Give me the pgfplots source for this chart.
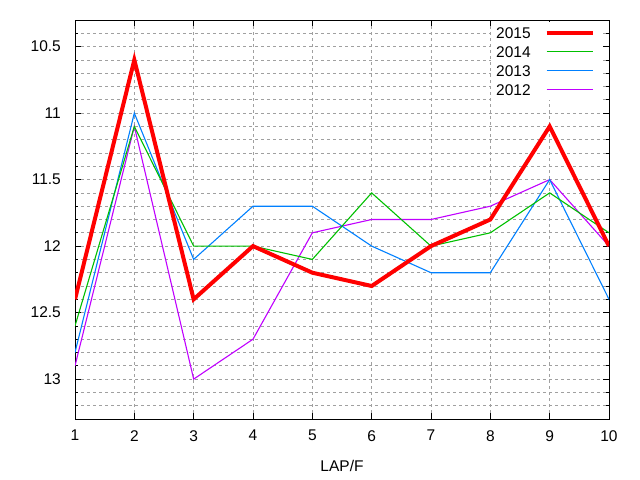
\documentclass[border=0pt]{standalone}
\usepackage{pgfplots}
\pgfplotsset{compat=1.18}
\usepackage{fontspec}
\setmainfont{Liberation Sans}

\definecolor{gpred}{RGB}{255,0,0}
\definecolor{gpgreen}{RGB}{0,192,0}
\definecolor{gpblue}{RGB}{0,128,255}
\definecolor{gpviolet}{RGB}{192,0,255}
\definecolor{gpgrid}{RGB}{160,160,160}

\begin{document}
\begin{tikzpicture}[font=\fontsize{15.5bp}{18bp}\selectfont]
\path[use as bounding box] (0,0) rectangle (640bp,480bp);
\begin{axis}[
    at={(75bp,61bp)}, anchor=south west,
    scale only axis, width=534bp, height=399bp,
    xmin=1, xmax=10,
    ymin=10.3, ymax=13.3,
    y dir=reverse,
    xtick={1,2,3,4,5,6,7,8,9,10},
    ytick={10.5,11,11.5,12,12.5,13},
    yticklabels={10.5,11,11.5,12,12.5,13},
    minor ytick={10.4,10.6,10.7,10.8,10.9,11.1,11.2,11.3,11.4,11.6,11.7,11.8,11.9,
                 12.1,12.2,12.3,12.4,12.6,12.7,12.8,12.9,13.1,13.2},
    /pgf/number format/assume math mode=true,
    grid=both,
    major grid style={gpgrid, line width=0.8bp, dash pattern=on 3bp off 3bp},
    minor grid style={gpgrid, line width=0.8bp, dash pattern=on 3bp off 3bp},
    tick align=inside,
    major tick length=6bp,
    minor tick length=3bp,
    tick style={black, line width=0.8bp},
    axis line style={black, line width=1bp},
    yticklabel style={anchor=east, inner sep=0pt, xshift=-14bp},
    xticklabel style={anchor=north, inner sep=0pt, yshift=-11bp},
    xlabel={LAP/F},
    xlabel style={at={(axis description cs:0.5,0)}, anchor=center, yshift=-47bp},
    legend style={at={(axis description cs:0.983,0.995)}, anchor=north east,
        draw=none, fill=white, inner sep=5bp,
        nodes={inner sep=0pt, text height=11bp, text depth=0bp},
        row sep=8bp, column sep=14bp},
    legend cell align=left,
    legend plot pos=right,
    reverse legend,
    legend image code/.code={\draw[#1] (0bp,0bp) -- (46bp,0bp);},
]
\addplot[gpviolet, line width=1.1bp] coordinates {
    (1,12.9) (2,11.1) (3,13.0) (4,12.7) (5,11.9)
    (6,11.8) (7,11.8) (8,11.7) (9,11.5) (10,12.0)};
\addlegendentry{2012}
\addplot[gpblue, line width=1.1bp] coordinates {
    (1,12.8) (2,11.0) (3,12.1) (4,11.7) (5,11.7)
    (6,12.0) (7,12.2) (8,12.2) (9,11.5) (10,12.4)};
\addlegendentry{2013}
\addplot[gpgreen, line width=1.1bp] coordinates {
    (1,12.6) (2,11.1) (3,12.0) (4,12.0) (5,12.1)
    (6,11.6) (7,12.0) (8,11.9) (9,11.6) (10,11.9)};
\addlegendentry{2014}
\addplot[gpred, line width=4bp] coordinates {
    (1,12.4) (2,10.6) (3,12.4) (4,12.0) (5,12.2)
    (6,12.3) (7,12.0) (8,11.8) (9,11.1) (10,12.0)};
\addlegendentry{2015}
\end{axis}
\end{tikzpicture}
\end{document}
